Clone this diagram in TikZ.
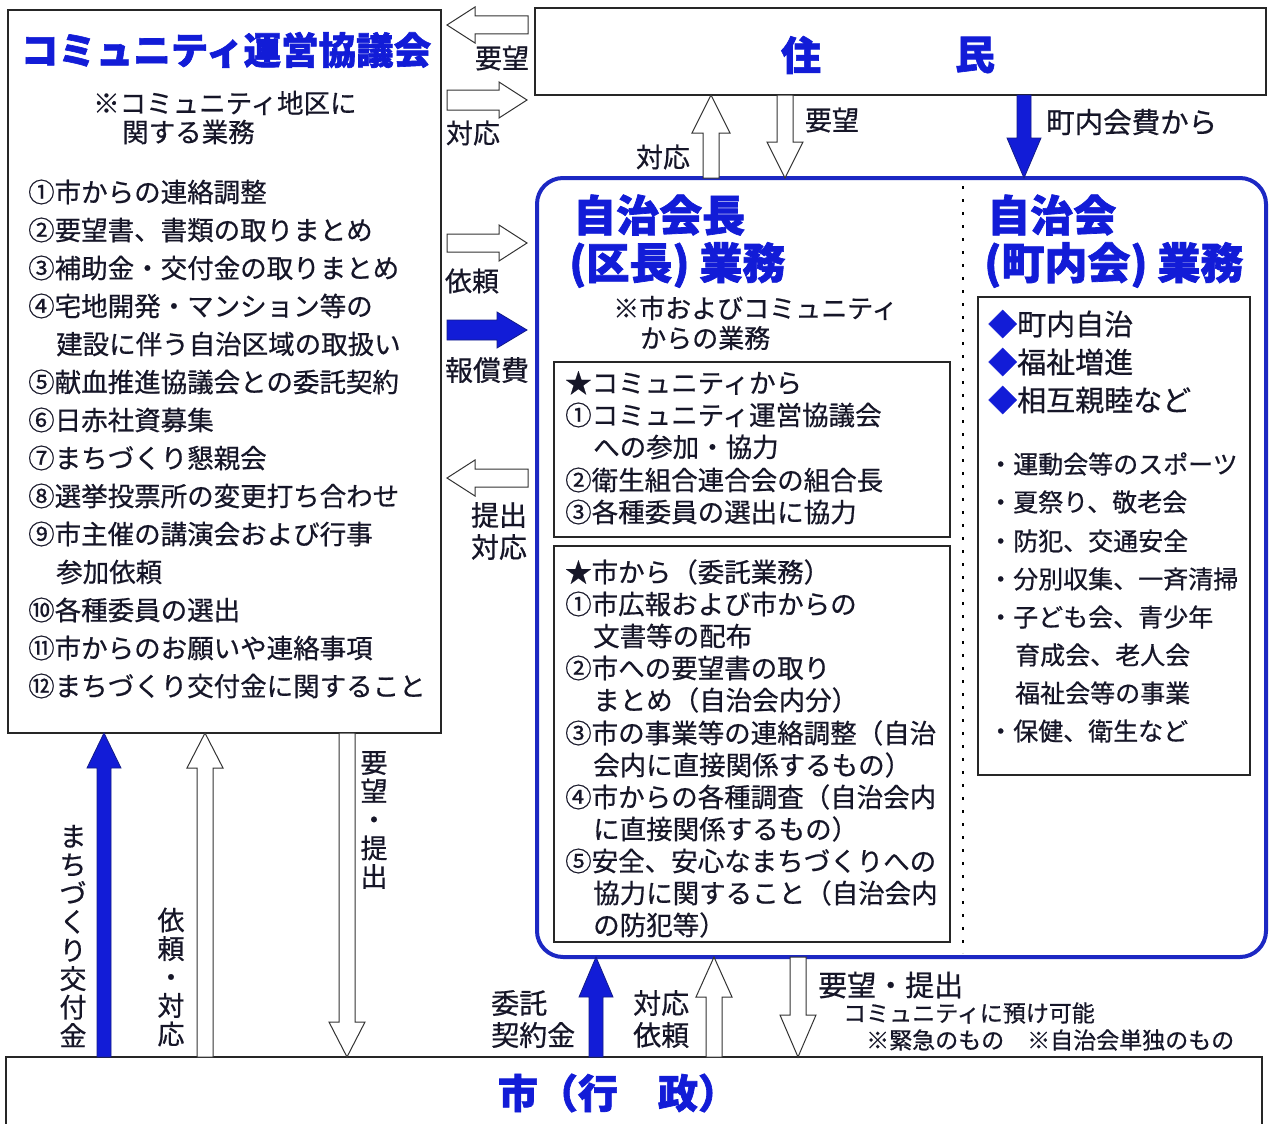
\documentclass[tikz,border=0pt]{standalone}
\usepackage{fontspec}
\setmainfont{Noto Sans CJK JP}[RawFeature={embolden=0.6}]
\newfontfamily\heavy{Noto Sans CJK JP}[RawFeature={embolden=1.6}]
\usetikzlibrary{calc}
\definecolor{tblue}{RGB}{18,28,215}
\definecolor{bblue}{RGB}{28,40,195}
\definecolor{ink}{RGB}{22,22,40}
\newcommand\fs[1]{\fontsize{#1}{#1}\selectfont}
\newcommand\vfs[2]{\fontsize{#1}{#2}\selectfont}
% vertical block arrow: style, tail, tip, half shaft, half head, head length
\newcommand\varr[6]{\path[#1] let \p1=(#2), \p2=(#3), \p3=($(\p2)!#6!(\p1)$) in
  (\x1-#4,\y1) -- (\x1-#4,\y3) -- (\x1-#5,\y3) -- (\x2,\y2) -- (\x1+#5,\y3) -- (\x1+#4,\y3) -- (\x1+#4,\y1) -- cycle;}
% horizontal block arrow
\newcommand\harr[6]{\path[#1] let \p1=(#2), \p2=(#3), \p3=($(\p2)!#6!(\p1)$) in
  (\x1,\y1-#4) -- (\x3,\y1-#4) -- (\x3,\y1-#5) -- (\x2,\y2) -- (\x3,\y1+#5) -- (\x3,\y1+#4) -- (\x1,\y1+#4) -- cycle;}
\tikzset{
  box/.style={draw=black!85, line width=1.2pt, fill=white, inner sep=0, outer sep=0},
  bigbox/.style={draw=bblue, line width=4pt, rounded corners=26pt, inner sep=0, outer sep=0},
  txt/.style={anchor=west, inner sep=0, text=ink, font=\fs{26.5}},
  lbl/.style={inner sep=0, text=ink, font=\fs{27}},
  ttl/.style={inner sep=0, text=tblue, font=\heavy\bfseries\fs{43}},
  vtxt/.style={inner sep=0, text=ink, align=center},
  hollow/.style={draw=black!80, line width=1pt, fill=white},
  solidarr/.style={draw=bblue!70!black, line width=0.8pt, fill=tblue},
  dotline/.style={draw=black, line width=2.6pt, dash pattern=on 2.6pt off 10.4pt},
}
\begin{document}
\begin{tikzpicture}[x=1pt,y=-1pt]
\useasboundingbox[fill=white] (0,0) rectangle (1274,1124);

% ---------- boxes ----------
\node[box, anchor=north west, minimum width=433, minimum height=723] (comm) at (8,10) {};
\node[box, anchor=north west, minimum width=731, minimum height=87] (res) at (535,8) {};
\node[bigbox, anchor=north west, minimum width=729, minimum height=779] (jc) at (537,178) {};
\node[box, anchor=north west, minimum width=1256, minimum height=90] (city) at (6,1057) {};
\node[box, anchor=north west, minimum width=396, minimum height=175] (ib1) at (554,362) {};
\node[box, anchor=north west, minimum width=396, minimum height=396] (ib2) at (554,546) {};
\node[box, anchor=north west, minimum width=272, minimum height=478] (ib3) at (978,297) {};
\coordinate (xdot) at (963,0);
\draw[dotline] ($(jc.north -| xdot)+(0,8)$) -- ($(jc.south -| xdot)+(0,-4)$);

% ---------- community council ----------
\node[ttl, font=\heavy\bfseries\fs{37.5}] (ctitle) at (226,50) {コミュニティ運営協議会};
\node[txt] (cs1) at (93,103) {※コミュニティ地区に};
\node[txt] (cs2) at (122,132) {関する業務};
\node[txt] (c1) at (28,192) {①市からの連絡調整};
\node[txt] (c2) at (28,230) {②要望書、書類の取りまとめ};
\node[txt] (c3) at (28,268) {③補助金・交付金の取りまとめ};
\node[txt] (c4) at (28,306) {④宅地開発・マンション等の};
\node[txt] (c4b) at (56,344) {建設に伴う自治区域の取扱い};
\node[txt] (c5) at (28,382) {⑤献血推進協議会との委託契約};
\node[txt] (c6) at (28,420) {⑥日赤社資募集};
\node[txt] (c7) at (28,458) {⑦まちづくり懇親会};
\node[txt] (c8) at (28,496) {⑧選挙投票所の変更打ち合わせ};
\node[txt] (c9) at (28,534) {⑨市主催の講演会および行事};
\node[txt] (c9b) at (56,572) {参加依頼};
\node[txt] (c10) at (28,610) {⑩各種委員の選出};
\node[txt] (c11) at (28,648) {⑪市からのお願いや連絡事項};
\node[txt] (c12) at (28,686) {⑫まちづくり交付金に関すること};

% ---------- residents ----------
\node[ttl, font=\heavy\bfseries\fs{40}] (r1) at (801,55) {住};
\node[ttl, font=\heavy\bfseries\fs{40}] (r2) at (975,55) {民};

% ---------- jichikai-cho ----------
\node[ttl, anchor=west] (jt1) at (573,215) {自治会長};
\node[ttl, anchor=west] (jt2) at (569,265) {(区長) 業務};
\node[txt, font=\fs{26}] (js1) at (613,308) {※市およびコミュニティ};
\node[txt, font=\fs{26}] (js2) at (640,338) {からの業務};
\node[txt] (a0) at (565,383) {★コミュニティから};
\node[txt] (a1) at (565,415) {①コミュニティ運営協議会};
\node[txt] (a1b) at (593,447) {への参加・協力};
\node[txt] (a2) at (565,480) {②衛生組合連合会の組合長};
\node[txt] (a3) at (565,512) {③各種委員の選出に協力};
\node[txt] (b0) at (565,572) {★市から（委託業務）};
\node[txt] (b1) at (565,604) {①市広報および市からの};
\node[txt] (b1b) at (593,636) {文書等の配布};
\node[txt] (b2) at (565,668) {②市への要望書の取り};
\node[txt] (b2b) at (593,700) {まとめ（自治会内分）};
\node[txt] (b3) at (565,733) {③市の事業等の連絡調整（自治};
\node[txt] (b3b) at (593,765) {会内に直接関係するもの）};
\node[txt] (b4) at (565,797) {④市からの各種調査（自治会内};
\node[txt] (b4b) at (593,829) {に直接関係するもの）};
\node[txt] (b5) at (565,861) {⑤安全、安心なまちづくりへの};
\node[txt] (b5b) at (593,893) {協力に関すること（自治会内};
\node[txt] (b5c) at (593,925) {の防犯等）};

% ---------- jichikai ----------
\node[ttl, anchor=west] (kt1) at (987,215) {自治会};
\node[ttl, anchor=west] (kt2) at (984,265) {(町内会) 業務};
\node[txt, font=\fs{29}] (d1) at (988,324) {\textcolor{tblue}{◆}町内自治};
\node[txt, font=\fs{29}] (d2) at (988,362) {\textcolor{tblue}{◆}福祉増進};
\node[txt, font=\fs{29}] (d3) at (988,400) {\textcolor{tblue}{◆}相互親睦など};
\node[txt, font=\fs{25}] (e1) at (988,464) {・運動会等のスポーツ};
\node[txt, font=\fs{25}] (e2) at (988,502) {・夏祭り、敬老会};
\node[txt, font=\fs{25}] (e3) at (988,541) {・防犯、交通安全};
\node[txt, font=\fs{25}] (e4) at (988,579) {・分別収集、一斉清掃};
\node[txt, font=\fs{25}] (e5) at (988,617) {・子ども会、青少年};
\node[txt, font=\fs{25}] (e5b) at (1015,655) {育成会、老人会};
\node[txt, font=\fs{25}] (e5c) at (1015,693) {福祉会等の事業};
\node[txt, font=\fs{25}] (e6) at (988,731) {・保健、衛生など};

% ---------- city ----------
\node[ttl, font=\heavy\bfseries\fs{40}] (ct) at (618,1093) {市（行　政）};

% ---------- arrows: council <-> residents / jichikai ----------
\coordinate (h1t) at (528,25);  \coordinate (h1h) at (447,25);
\coordinate (h2t) at (447,100); \coordinate (h2h) at (527,100);
\coordinate (h3t) at (447,243); \coordinate (h3h) at (527,243);
\coordinate (h4t) at (447,330); \coordinate (h4h) at (527,330);
\coordinate (h5t) at (528,478); \coordinate (h5h) at (447,478);
\harr{hollow}{h1t}{h1h}{9pt}{18pt}{28pt}
\harr{hollow}{h2t}{h2h}{10pt}{18pt}{28pt}
\harr{hollow}{h3t}{h3h}{9pt}{18pt}{28pt}
\harr{solidarr}{h4t}{h4h}{10pt}{18pt}{30pt}
\harr{hollow}{h5t}{h5h}{9pt}{18pt}{28pt}
\node[lbl] (l1) at (502,58) {要望};
\node[lbl] (l2) at (473,133) {対応};
\node[lbl] (l3) at (472,281) {依頼};
\node[lbl, font=\fs{28}] (l4) at (487,370) {報償費};
\node[lbl, font=\fs{28}] (l5) at (499,515) {提出};
\node[lbl, font=\fs{28}] (l6) at (499,547) {対応};

% ---------- arrows: residents <-> jichikai ----------
\coordinate (x711) at (711,0); \coordinate (x785) at (785,0); \coordinate (x1024) at (1024,0);
\varr{hollow}{jc.north -| x711}{res.south -| x711}{8pt}{19pt}{38pt}
\varr{hollow}{res.south -| x785}{jc.north -| x785}{8pt}{18pt}{36pt}
\varr{solidarr}{res.south -| x1024}{jc.north -| x1024}{7pt}{17pt}{40pt}
\node[lbl] (l7) at (663,157) {対応};
\node[lbl] (l8) at (832,120) {要望};
\node[lbl, font=\fs{28.5}, anchor=west] (l9) at (1046,122) {町内会費から};

% ---------- arrows: council <-> city ----------
\coordinate (x104) at (104,0); \coordinate (x205) at (205,0); \coordinate (x347) at (347,0);
\varr{solidarr}{city.north -| x104}{comm.south -| x104}{7pt}{17pt}{35pt}
\varr{hollow}{city.north -| x205}{comm.south -| x205}{8pt}{18pt}{35pt}
\varr{hollow}{comm.south -| x347}{city.north -| x347}{8pt}{18pt}{35pt}
\node[vtxt, font=\vfs{27}{28.5}] (v1) at (73,936) {ま\\ち\\づ\\く\\り\\交\\付\\金};
\node[vtxt, font=\vfs{27}{28.5}] (v2) at (171,977) {依\\頼\\・\\対\\応};
\node[vtxt, font=\vfs{27}{28.5}] (v3) at (374,820) {要\\望\\・\\提\\出};

% ---------- arrows: jichikai <-> city ----------
\coordinate (x596) at (596,0); \coordinate (x714) at (714,0); \coordinate (x798) at (798,0);
\varr{solidarr}{city.north -| x596}{jc.south -| x596}{7pt}{17pt}{40pt}
\varr{hollow}{city.north -| x714}{jc.south -| x714}{8pt}{18pt}{40pt}
\varr{hollow}{jc.south -| x798}{city.north -| x798}{8pt}{18pt}{42pt}
\node[lbl, font=\fs{28}, anchor=west] (m1) at (491,1003) {委託};
\node[lbl, font=\fs{28}, anchor=west] (m2) at (491,1035) {契約金};
\node[lbl, font=\fs{28}, anchor=west] (m3) at (633,1003) {対応};
\node[lbl, font=\fs{28}, anchor=west] (m4) at (633,1035) {依頼};
\node[lbl, font=\fs{29}, anchor=west] (m5) at (818,985) {要望・提出};
\node[lbl, font=\fs{23}, anchor=west] (m6) at (843,1013) {コミュニティに預け可能};
\node[lbl, font=\fs{23}, anchor=west] (m7) at (866,1040) {※緊急のもの　※自治会単独のもの};
\end{tikzpicture}
\end{document}
